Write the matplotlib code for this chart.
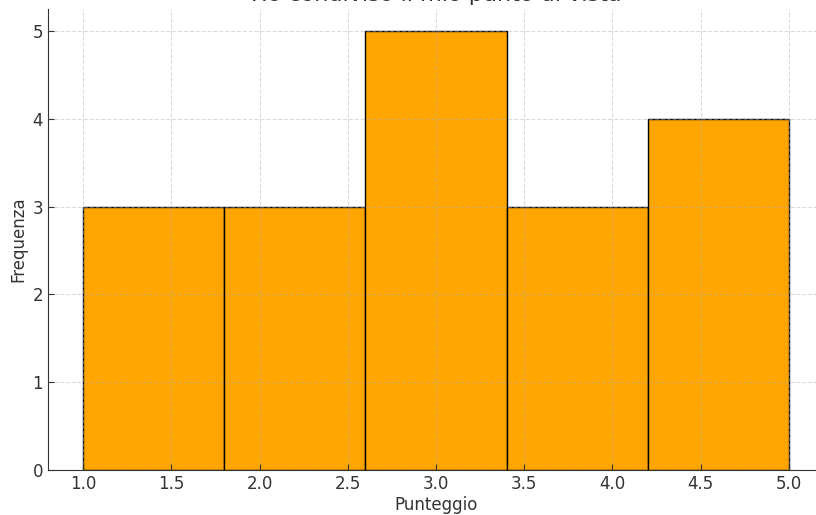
import matplotlib
matplotlib.use("Agg")
import matplotlib.pyplot as plt

title = "Ho condiviso il mio punto di vista"
xlabel = "Punteggio"
ylabel = "Frequenza"
scores = [1, 1, 1, 2, 2, 2, 3, 3, 3, 3, 3, 4, 4, 4, 5, 5, 5, 5]
n_bins = 5

fig = plt.figure(figsize=(8.16, 5.15), dpi=100)
ax = fig.add_axes([48 / 816, 45 / 515, 776 / 816, 461 / 515])
ax.hist(scores, bins=n_bins, color="#FFA500", edgecolor="black", linewidth=1.0)
ax.set_title(title, fontsize=16, color="#333333")
ax.set_xlabel(xlabel, fontsize=12, color="#333333", labelpad=2)
ax.set_ylabel(ylabel, fontsize=12, color="#333333")
ax.grid(True, linestyle="--", color="#b0b0b0", alpha=0.45, linewidth=0.8)
ax.set_axisbelow(False)
for s in ["top", "right"]:
    ax.spines[s].set_visible(False)
for s in ["left", "bottom"]:
    ax.spines[s].set_color("#333333")
ax.tick_params(direction="in", length=4, labelsize=12, colors="#333333")
ax.set_xlim(0.8, 5.2)
ax.set_ylim(0, 5.25)
fig.savefig("out.png", dpi=100)
